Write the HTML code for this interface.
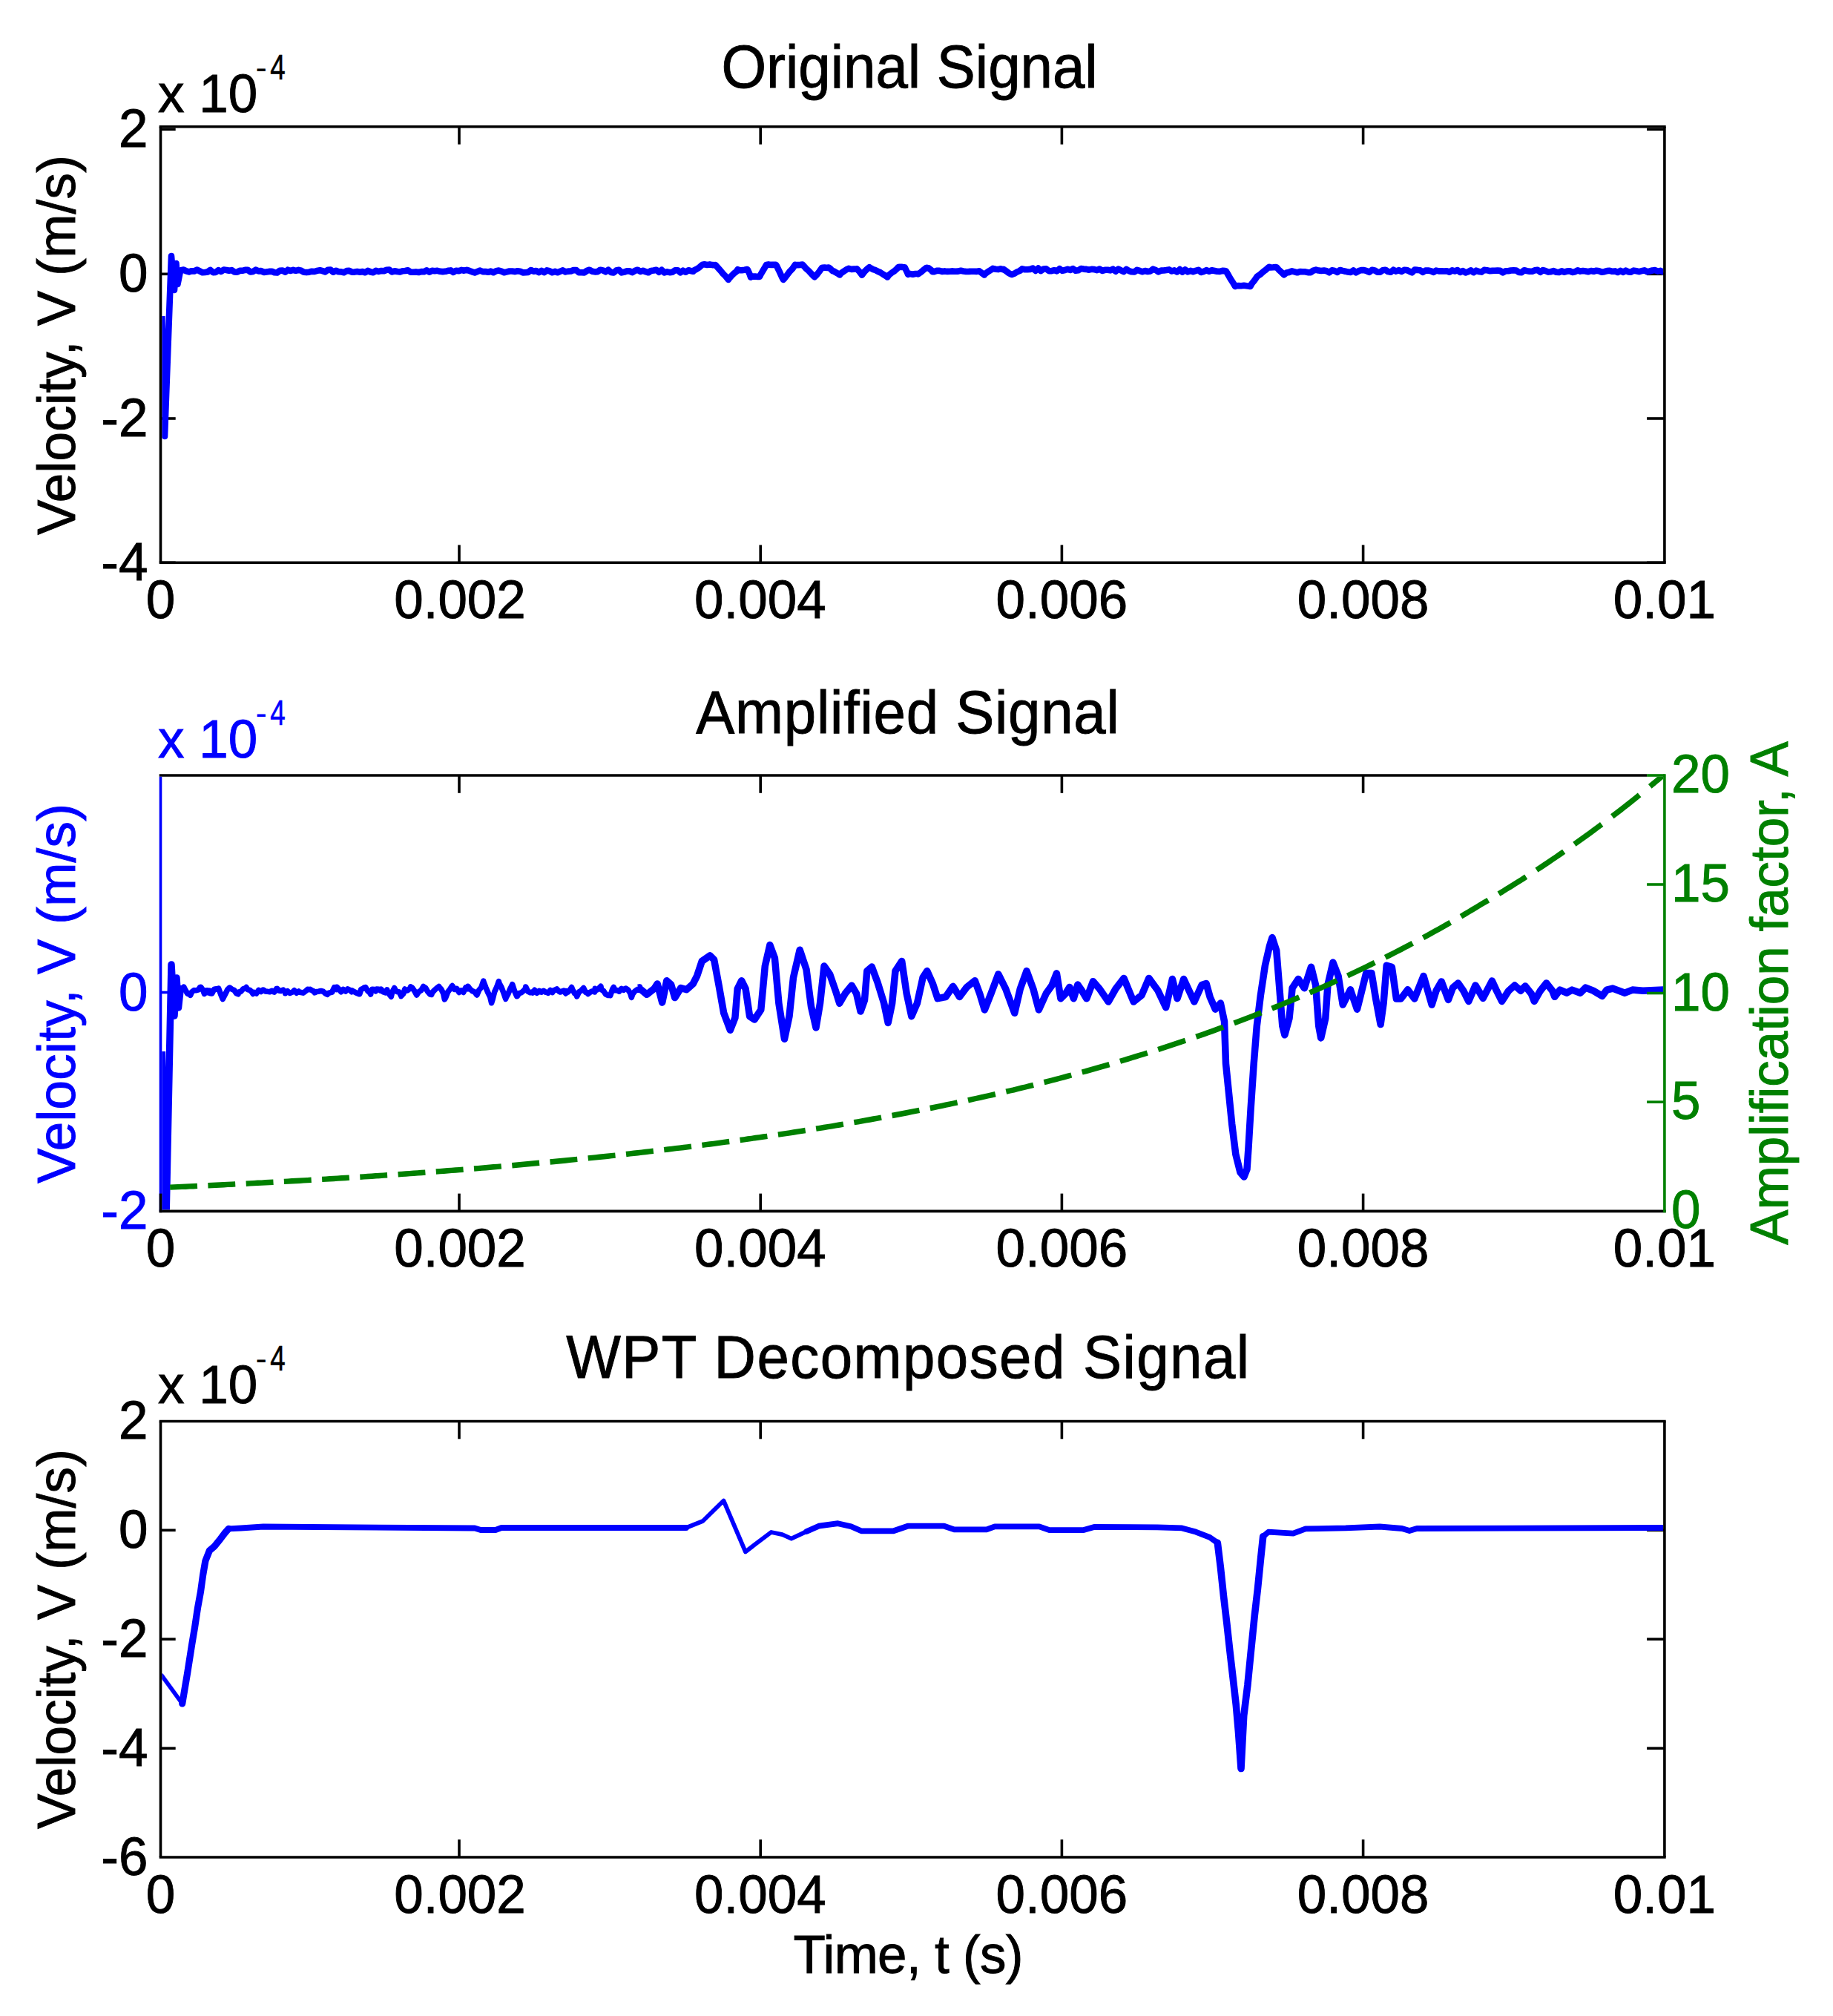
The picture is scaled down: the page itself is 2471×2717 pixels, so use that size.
<!DOCTYPE html>
<html lang="en"><head><meta charset="utf-8"><title>Signal plots</title>
<style>html,body{margin:0;padding:0;background:#fff}svg{display:block}</style>
</head><body>
<svg width="2471" height="2717" viewBox="0 0 2471 2717" font-family="'Liberation Sans', sans-serif" style="font-variant-ligatures:none">
<defs>
<clipPath id="c0"><rect x="218.3" y="172.6" width="2023.8" height="583.9"/></clipPath>
<clipPath id="c1"><rect x="218.3" y="1046.8" width="2023.8" height="583.8"/></clipPath>
<clipPath id="c2"><rect x="218.3" y="1917.3" width="2023.8" height="583.9"/></clipPath>
</defs>
<rect width="2471" height="2717" fill="#fff"/>
<line x1="216.5" y1="174.3" x2="236.7" y2="174.3" stroke="#000" stroke-width="3.6"/>
<line x1="2243.9" y1="174.3" x2="2220.1" y2="174.3" stroke="#000" stroke-width="3.6"/>
<text transform="translate(199.5,197.8) scale(1,1.025)" font-size="71" text-anchor="end" fill="#000" stroke="#000" stroke-width="0.9">2</text>
<line x1="216.5" y1="369.3" x2="236.7" y2="369.3" stroke="#000" stroke-width="3.6"/>
<line x1="2243.9" y1="369.3" x2="2220.1" y2="369.3" stroke="#000" stroke-width="3.6"/>
<text transform="translate(199.5,392.8) scale(1,1.025)" font-size="71" text-anchor="end" fill="#000" stroke="#000" stroke-width="0.9">0</text>
<line x1="216.5" y1="564.0" x2="236.7" y2="564.0" stroke="#000" stroke-width="3.6"/>
<line x1="2243.9" y1="564.0" x2="2220.1" y2="564.0" stroke="#000" stroke-width="3.6"/>
<text transform="translate(199.5,587.5) scale(1,1.025)" font-size="71" text-anchor="end" fill="#000" stroke="#000" stroke-width="0.9">-2</text>
<line x1="216.5" y1="758.3" x2="236.7" y2="758.3" stroke="#000" stroke-width="3.6"/>
<line x1="2243.9" y1="758.3" x2="2220.1" y2="758.3" stroke="#000" stroke-width="3.6"/>
<text transform="translate(199.5,781.8) scale(1,1.025)" font-size="71" text-anchor="end" fill="#000" stroke="#000" stroke-width="0.9">-4</text>
<polyline points="218.3,426.0 222.0,588.0 231.0,345.0 235.0,391.0 237.5,355.0 239.5,383.0 243.0,365.5 244.0,364.2 247.6,363.6 251.2,365.4 254.8,366.4 258.4,365.2 262.0,365.4 265.6,363.5 269.2,365.4 272.8,367.3 276.4,366.9 280.0,366.4 283.6,363.9 287.2,367.1 290.8,366.9 294.4,364.2 298.0,366.0 301.6,363.6 305.2,364.0 308.8,364.8 312.4,364.1 316.0,366.5 319.6,366.8 323.2,364.9 326.8,364.8 330.4,363.9 334.0,363.8 337.6,366.4 341.2,365.9 344.8,363.7 348.4,365.4 352.0,365.1 355.6,366.9 359.2,366.4 362.8,365.9 366.4,365.7 370.0,367.3 373.6,367.5 377.2,364.8 380.8,364.5 384.4,366.7 388.0,363.7 391.6,365.0 395.2,363.8 398.8,364.8 402.4,363.8 406.0,364.7 409.6,366.7 413.2,367.1 416.8,366.7 420.4,365.7 424.0,366.0 427.6,364.9 431.2,364.2 434.8,365.2 438.4,366.4 442.0,363.7 445.6,363.6 449.2,366.6 452.8,364.7 456.4,366.3 460.0,366.4 463.6,367.2 467.2,365.1 470.8,364.9 474.4,366.7 478.0,366.6 481.6,366.1 485.2,366.7 488.8,366.1 492.4,367.3 496.0,364.8 499.6,366.5 503.2,367.3 506.8,364.8 510.4,365.9 514.0,365.0 517.6,365.3 521.2,363.8 524.8,363.6 528.4,366.5 532.0,365.3 535.6,366.0 539.2,366.5 542.8,365.2 546.4,365.0 550.0,364.2 553.6,366.7 557.2,366.8 560.8,366.4 564.4,367.0 568.0,366.1 571.6,366.3 575.2,364.3 578.8,366.6 582.4,364.8 586.0,365.3 589.6,364.8 593.2,365.8 596.8,366.1 600.4,365.8 604.0,364.8 607.6,364.4 611.2,366.9 614.8,364.7 618.4,365.3 622.0,363.9 625.6,364.7 629.2,363.8 632.8,364.9 636.4,366.3 640.0,367.4 643.6,366.0 647.2,364.6 650.8,366.1 654.4,366.0 658.0,366.8 661.6,365.6 665.2,367.2 668.8,365.2 672.4,364.6 676.0,365.6 679.6,367.2 683.2,366.4 686.8,365.5 690.4,365.5 694.0,366.1 697.6,365.3 701.2,365.7 704.8,367.4 708.4,367.2 712.0,366.9 715.6,364.0 719.2,365.7 722.8,365.0 726.4,367.2 730.0,364.8 733.6,367.2 737.2,364.4 740.8,365.2 744.4,367.3 748.0,365.9 751.6,367.2 755.2,365.7 758.8,364.4 762.4,366.4 766.0,365.6 769.6,365.5 773.2,364.0 776.8,364.1 780.4,367.2 784.0,367.3 787.6,367.4 791.2,364.9 794.8,363.7 798.4,365.7 802.0,366.4 805.6,366.1 809.2,363.7 812.8,364.4 816.4,366.3 820.0,363.7 823.6,366.9 827.2,367.5 830.8,364.5 834.4,363.7 838.0,367.4 841.6,366.6 845.2,365.3 848.8,365.4 852.4,367.2 856.0,364.9 859.6,363.7 863.2,366.0 866.8,364.7 870.4,366.2 874.0,367.3 877.6,364.9 881.2,364.5 884.8,363.7 888.4,366.8 892.0,363.8 895.6,367.3 899.2,366.3 902.8,367.2 906.4,366.8 910.0,364.3 913.6,364.2 917.2,367.4 920.8,364.7 924.4,366.7 928.0,364.2 931.6,365.2 934.5,365.7 935.2,364.7 938.8,362.9 942.4,360.7 946.0,357.4 947.0,356.7 949.6,356.3 953.2,356.9 956.8,356.4 960.4,357.1 964.0,357.3 964.5,357.1 967.6,360.6 971.2,364.6 974.8,369.0 978.4,372.5 982.0,377.0 982.0,376.3 985.6,372.3 989.2,368.7 992.8,365.8 994.5,363.2 996.4,364.0 1000.0,364.2 1003.6,363.7 1007.2,363.1 1008.0,363.8 1010.8,370.0 1012.0,373.6 1014.4,372.6 1018.0,372.6 1021.6,373.0 1024.0,373.0 1025.2,370.4 1028.8,364.3 1032.4,358.3 1033.0,357.0 1036.0,356.4 1039.6,356.9 1043.2,356.9 1046.0,356.9 1046.8,357.9 1050.4,365.3 1054.0,373.2 1056.0,377.0 1057.6,375.2 1061.2,370.5 1064.8,365.7 1068.4,362.0 1072.0,356.7 1072.0,357.1 1075.6,357.1 1079.2,356.9 1082.0,356.6 1082.8,357.6 1086.4,361.7 1090.0,364.9 1093.6,368.7 1097.2,372.5 1098.0,373.3 1100.8,370.7 1104.4,366.0 1108.0,361.0 1109.0,360.8 1111.6,360.5 1115.2,360.9 1117.0,360.5 1118.8,361.6 1122.4,365.2 1124.0,365.5 1126.0,366.7 1129.6,368.8 1132.0,370.5 1133.2,368.6 1136.8,366.2 1140.4,363.7 1142.0,362.8 1144.0,361.9 1147.6,362.9 1151.2,362.6 1154.8,362.5 1155.0,362.3 1158.4,365.9 1162.0,370.5 1162.0,370.7 1165.6,365.9 1169.2,362.4 1172.0,360.2 1172.8,360.8 1176.4,362.8 1180.0,364.0 1183.6,365.8 1187.2,367.5 1190.8,369.8 1194.4,372.0 1196.4,373.5 1198.0,371.0 1201.6,368.0 1205.2,365.7 1208.8,362.6 1211.0,360.0 1212.4,359.9 1216.0,359.8 1219.6,360.7 1219.6,360.2 1223.2,367.6 1224.0,369.8 1226.8,369.1 1230.4,369.7 1234.0,369.0 1237.0,369.0 1237.6,369.4 1241.2,367.0 1244.8,363.9 1248.4,361.2 1249.6,360.8 1252.0,361.5 1255.6,364.2 1257.0,366.1 1259.2,366.1 1262.8,364.9 1266.4,364.8 1270.0,365.9 1273.6,365.4 1277.2,365.9 1280.8,365.7 1284.4,365.4 1288.0,365.8 1291.6,365.6 1295.2,364.8 1298.8,365.5 1302.4,366.0 1306.0,365.9 1309.6,365.7 1313.2,365.7 1316.8,365.9 1320.0,365.2 1320.4,365.6 1324.0,368.3 1327.0,370.5 1327.6,369.3 1331.2,366.7 1334.8,364.4 1338.0,362.4 1338.4,361.9 1342.0,362.7 1345.6,363.1 1349.2,362.3 1352.0,363.1 1352.8,362.9 1356.4,365.3 1360.0,368.2 1363.6,370.0 1364.0,370.0 1367.2,368.8 1370.8,366.6 1374.4,365.1 1378.0,362.6 1378.0,362.4 1381.6,363.2 1385.2,363.2 1388.8,362.9 1392.4,361.6 1396.0,364.9 1399.6,361.6 1403.2,365.1 1406.8,362.5 1410.4,362.4 1414.0,365.1 1417.6,365.2 1421.2,364.2 1424.8,365.3 1428.4,362.2 1432.0,364.9 1435.6,364.0 1439.2,362.7 1442.8,364.0 1446.4,362.1 1450.0,364.8 1453.6,364.3 1457.2,362.1 1460.8,362.6 1464.4,362.9 1468.0,363.7 1471.6,362.8 1475.2,363.1 1478.8,364.1 1482.4,362.5 1486.0,365.0 1489.6,363.8 1493.2,363.7 1496.8,364.4 1500.4,362.7 1504.0,365.7 1507.6,362.6 1511.2,364.4 1514.8,366.1 1518.4,362.8 1522.0,365.1 1525.6,366.3 1529.2,366.4 1532.8,363.8 1536.4,364.9 1540.0,366.3 1543.6,365.0 1547.2,366.0 1550.8,365.4 1554.4,362.7 1558.0,364.0 1561.6,366.3 1565.2,364.6 1568.8,364.5 1572.4,364.0 1576.0,363.4 1579.6,365.5 1583.2,364.4 1586.8,366.4 1590.4,363.1 1594.0,366.5 1597.6,363.4 1601.2,366.3 1604.8,364.9 1608.4,366.1 1612.0,364.9 1615.6,363.8 1619.2,367.0 1622.8,365.8 1626.4,364.1 1630.0,365.7 1633.6,364.2 1637.2,365.0 1640.8,365.8 1644.4,365.9 1648.0,364.9 1651.6,365.1 1652.8,365.4 1655.2,369.5 1658.8,375.8 1662.4,381.3 1665.0,385.9 1666.0,385.3 1669.6,385.1 1673.2,385.2 1676.8,384.8 1680.4,385.3 1684.0,385.7 1685.5,386.0 1687.6,382.1 1691.2,377.7 1694.8,372.6 1695.0,372.3 1698.4,370.2 1702.0,367.0 1704.6,364.9 1705.6,364.3 1709.2,361.1 1711.0,359.8 1712.8,360.5 1716.4,360.3 1720.0,360.0 1721.0,360.3 1723.6,363.3 1727.2,366.7 1730.5,369.9 1730.8,370.2 1734.4,367.5 1738.0,367.0 1740.0,365.8 1741.6,365.4 1745.2,366.3 1748.8,367.3 1752.4,366.1 1756.0,366.2 1759.6,366.3 1763.2,367.2 1766.8,367.1 1770.4,364.6 1774.0,363.6 1777.6,364.6 1781.2,365.0 1784.8,364.5 1788.4,365.3 1792.0,367.3 1795.6,364.3 1799.2,365.0 1802.8,366.8 1806.4,364.0 1810.0,364.9 1813.6,365.7 1817.2,366.6 1820.8,367.0 1824.4,364.5 1828.0,367.3 1831.6,365.2 1835.2,364.0 1838.8,364.1 1842.4,365.2 1846.0,366.8 1849.6,363.8 1853.2,364.4 1856.8,366.7 1860.4,366.8 1864.0,364.3 1867.6,363.7 1871.2,366.1 1874.8,366.7 1878.4,363.7 1882.0,365.6 1885.6,364.1 1889.2,365.9 1892.8,363.9 1896.4,364.0 1900.0,365.7 1903.6,367.3 1907.2,363.6 1910.8,363.9 1914.4,364.3 1918.0,366.8 1921.6,364.5 1925.2,364.6 1928.8,365.2 1932.4,366.9 1936.0,364.6 1939.6,365.4 1943.2,365.4 1946.8,365.5 1950.4,365.3 1954.0,366.7 1957.6,364.3 1961.2,365.5 1964.8,364.0 1968.4,367.0 1972.0,365.2 1975.6,367.5 1979.2,366.2 1982.8,364.3 1986.4,367.2 1990.0,364.7 1993.6,366.1 1997.2,366.6 2000.8,363.9 2004.4,364.2 2008.0,365.2 2011.6,364.9 2015.2,364.8 2018.8,364.6 2022.4,364.9 2026.0,367.4 2029.6,365.3 2033.2,365.3 2036.8,364.5 2040.4,364.3 2044.0,364.5 2047.6,367.0 2051.2,367.1 2054.8,364.2 2058.4,365.1 2062.0,365.8 2065.6,365.7 2069.2,364.3 2072.8,363.7 2076.4,366.7 2080.0,364.0 2083.6,365.1 2087.2,366.6 2090.8,366.2 2094.4,365.1 2098.0,366.7 2101.6,367.0 2105.2,365.4 2108.8,366.7 2112.4,365.6 2116.0,365.2 2119.6,367.0 2123.2,366.3 2126.8,364.4 2130.4,365.6 2134.0,365.1 2137.6,365.5 2141.2,366.3 2144.8,365.0 2148.4,365.8 2152.0,364.7 2155.6,365.3 2159.2,366.7 2162.8,366.2 2166.4,365.1 2170.0,364.8 2173.6,365.8 2177.2,365.4 2180.8,367.0 2184.4,364.9 2188.0,366.8 2191.6,364.7 2195.2,366.4 2198.8,366.6 2202.4,364.6 2206.0,365.3 2209.6,366.1 2213.2,365.2 2216.8,364.3 2220.4,366.3 2224.0,365.5 2227.6,364.5 2231.2,364.1 2234.8,365.6 2238.4,364.9 2242.0,366.4 2242.0,364.5" fill="none" stroke="#0000ff" stroke-width="8.6" stroke-linejoin="round" clip-path="url(#c0)"/>
<line x1="214.7" y1="170.8" x2="2245.7" y2="170.8" stroke="#000" stroke-width="3.6"/>
<line x1="214.7" y1="758.3" x2="2245.7" y2="758.3" stroke="#000" stroke-width="3.6"/>
<line x1="216.5" y1="170.8" x2="216.5" y2="758.3" stroke="#000" stroke-width="3.6"/>
<line x1="2243.9" y1="170.8" x2="2243.9" y2="758.3" stroke="#000" stroke-width="3.6"/>
<line x1="619.0" y1="758.3" x2="619.0" y2="734.5" stroke="#000" stroke-width="3.6"/>
<line x1="619.0" y1="170.8" x2="619.0" y2="194.6" stroke="#000" stroke-width="3.6"/>
<line x1="1025.2" y1="758.3" x2="1025.2" y2="734.5" stroke="#000" stroke-width="3.6"/>
<line x1="1025.2" y1="170.8" x2="1025.2" y2="194.6" stroke="#000" stroke-width="3.6"/>
<line x1="1431.4" y1="758.3" x2="1431.4" y2="734.5" stroke="#000" stroke-width="3.6"/>
<line x1="1431.4" y1="170.8" x2="1431.4" y2="194.6" stroke="#000" stroke-width="3.6"/>
<line x1="1837.6" y1="758.3" x2="1837.6" y2="734.5" stroke="#000" stroke-width="3.6"/>
<line x1="1837.6" y1="170.8" x2="1837.6" y2="194.6" stroke="#000" stroke-width="3.6"/>
<text transform="translate(216.5,833.0) scale(1,1.025)" font-size="71" text-anchor="middle" fill="#000" stroke="#000" stroke-width="0.9">0</text>
<text transform="translate(620.0,833.0) scale(1,1.025)" font-size="71" text-anchor="middle" fill="#000" stroke="#000" stroke-width="0.9">0.002</text>
<text transform="translate(1024.8,833.0) scale(1,1.025)" font-size="71" text-anchor="middle" fill="#000" stroke="#000" stroke-width="0.9">0.004</text>
<text transform="translate(1431.4,833.0) scale(1,1.025)" font-size="71" text-anchor="middle" fill="#000" stroke="#000" stroke-width="0.9">0.006</text>
<text transform="translate(1837.6,833.0) scale(1,1.025)" font-size="71" text-anchor="middle" fill="#000" stroke="#000" stroke-width="0.9">0.008</text>
<text transform="translate(2243.8,833.0) scale(1,1.025)" font-size="71" text-anchor="middle" fill="#000" stroke="#000" stroke-width="0.9">0.01</text>
<text transform="translate(1226.0,117.5) scale(1,1.04)" font-size="78" text-anchor="middle" fill="#000" stroke="#000" stroke-width="0.9">Original Signal</text>
<text transform="translate(213.0,150.5) scale(1,1.025)" font-size="71" text-anchor="start" fill="#000" stroke="#000" stroke-width="0.9">x 10</text>
<text x="344.5" y="106.6" font-size="46" fill="#000">-</text>
<text transform="translate(364.3,106.6) scale(0.8,1.03)" font-size="46" fill="#000" stroke="#000" stroke-width="0.6">4</text>
<text transform="translate(101.0,720.9) rotate(-90) scale(1,1.025)" font-size="71" text-anchor="start" fill="#000" stroke="#000" stroke-width="0.9" letter-spacing="0.275">Velocity, V (m/s)</text>
<line x1="216.5" y1="1337.5" x2="236.7" y2="1337.5" stroke="#0000ff" stroke-width="3.6"/>
<polyline points="218.3,1417.0 223.0,1690.0 231.0,1300.0 235.0,1369.0 238.0,1318.0 240.5,1358.0 243.0,1335.0 243.7,1332.8 246.7,1333.0" fill="none" stroke="#0000ff" stroke-width="9.5" stroke-linejoin="round" clip-path="url(#c1)"/>
<polyline points="243.7,1332.8 246.7,1333.0 247.7,1330.1 249.7,1334.0 252.7,1339.0 255.7,1340.4 256.6,1341.3 258.7,1336.7 261.7,1334.5 262.6,1334.8 264.7,1334.7 267.7,1333.8 269.5,1330.7 270.7,1330.3 273.7,1334.4 275.5,1339.4 276.7,1335.1 279.4,1334.8 279.7,1337.6 282.7,1335.3 283.4,1338.8 285.7,1339.0 288.7,1333.2 291.7,1332.7 293.3,1333.5 294.7,1332.2 297.7,1340.3 300.3,1346.5 300.7,1345.4 303.7,1339.7 306.7,1333.7 309.2,1331.3 309.7,1331.0 312.7,1333.3 315.7,1334.5 318.7,1338.7 321.1,1339.7 321.7,1336.9 324.7,1336.4 327.7,1332.9 330.7,1331.9 332.0,1330.6 333.7,1333.5 336.7,1334.3 339.7,1337.1 341.0,1339.4 342.7,1337.3 345.7,1339.0 348.7,1334.4 351.7,1336.5 354.7,1334.0 354.8,1334.0 357.7,1335.9 360.7,1336.3 363.7,1336.6 366.7,1335.4 367.7,1336.2 369.7,1337.1 372.7,1332.6 373.7,1332.4 375.7,1335.0 378.7,1335.5 381.7,1334.1 384.6,1337.3 384.7,1338.7 387.7,1335.8 390.7,1338.5 393.7,1337.3 395.5,1336.2 396.7,1334.8 399.7,1338.2 402.7,1336.0 403.5,1337.3 405.7,1337.5 408.7,1338.1 411.7,1336.0 414.7,1333.4 417.7,1333.7 418.3,1333.4 420.7,1334.9 423.7,1336.2 424.3,1337.8 426.7,1336.5 429.7,1336.3 430.2,1336.0 432.7,1335.5 435.7,1336.2 438.7,1338.9 441.2,1340.3 441.7,1338.9 444.7,1337.9 447.7,1337.0 450.7,1330.7 453.7,1333.5 454.0,1330.2 456.7,1333.0 459.7,1336.7 460.0,1336.4 462.7,1333.4 465.7,1336.0 468.7,1332.9 471.7,1334.4 473.9,1336.7 474.7,1335.0 477.7,1336.7 480.7,1338.3 483.7,1339.6 484.8,1339.6 486.7,1333.5 489.7,1332.1 490.8,1331.2 492.7,1330.6 495.7,1335.4 498.7,1338.1 499.7,1340.0 500.0,1337.6 501.7,1333.3 504.7,1333.6 506.5,1335.8 507.7,1333.0 510.7,1333.3 513.1,1335.1 513.7,1333.1 516.7,1336.9 519.7,1337.8 521.8,1333.9 522.7,1337.3 525.7,1341.1 527.3,1343.2 528.7,1337.1 531.7,1331.6 532.7,1333.6 534.7,1336.4 537.7,1336.7 540.4,1341.5 540.7,1342.5 543.7,1339.2 545.8,1333.0 546.7,1335.2 549.7,1334.7 552.7,1332.2 553.5,1329.9 555.7,1331.3 558.7,1335.4 561.7,1340.9 563.3,1338.4 564.7,1336.5 567.7,1334.7 570.7,1329.6 570.9,1329.8 573.7,1331.5 576.7,1336.6 579.7,1340.0 581.8,1340.4 582.7,1337.6 585.7,1334.5 588.7,1331.8 591.7,1329.6 591.7,1330.0 594.7,1333.1 597.7,1338.9 599.3,1346.8 600.7,1344.7 603.7,1336.8 606.7,1333.0 609.1,1329.2 609.7,1328.6 612.7,1333.4 615.7,1332.4 618.7,1337.1 618.9,1337.4 621.7,1335.0 624.7,1337.4 627.7,1331.0 630.7,1332.7 630.9,1329.4 633.7,1333.0 636.7,1335.6 639.7,1336.7 642.7,1340.7 642.9,1340.9 645.7,1334.4 648.7,1330.9 651.7,1322.2 651.7,1322.6 654.7,1330.4 657.7,1337.5 660.7,1343.6 662.6,1351.7 663.7,1348.2 666.7,1336.6 669.7,1330.2 672.4,1322.6 672.7,1324.5 675.7,1330.0 678.7,1337.6 681.7,1346.3 682.2,1344.5 684.7,1340.0 687.7,1332.7 689.9,1328.6 690.7,1326.7 693.7,1335.9 696.7,1342.7 697.5,1342.4 699.7,1338.6 702.7,1337.8 705.7,1335.3 708.4,1332.5 708.7,1330.0 711.7,1336.1 714.7,1337.8 717.7,1336.8 718.2,1338.0 720.7,1334.3 723.7,1338.3 726.7,1336.4 727.0,1335.4 729.7,1337.2 732.7,1335.3 735.7,1337.2 736.8,1337.2 738.7,1338.3 741.7,1334.5 744.7,1337.5 746.6,1334.5 747.7,1334.5 750.7,1333.0 753.7,1336.2 755.3,1337.0 756.7,1336.4 759.7,1335.2 762.7,1338.9 763.0,1335.6 765.7,1337.1 768.7,1333.5 770.6,1330.6 771.7,1333.5 774.7,1338.8 777.1,1340.6 777.7,1342.9 780.7,1336.6 783.7,1335.1 784.8,1333.4 786.7,1331.6 789.7,1337.6 791.3,1337.6 792.7,1339.4 795.7,1337.2 798.7,1335.7 801.7,1336.9 802.2,1332.4 804.7,1334.0 807.7,1331.6 809.9,1329.2 810.7,1333.8 813.7,1335.6 816.7,1340.1 819.7,1341.4 820.8,1341.0 822.7,1341.7 825.7,1333.0 827.3,1330.4 828.7,1334.8 831.7,1334.6 831.7,1334.6 834.7,1336.2 837.7,1332.4 840.7,1334.3 842.6,1332.4 843.7,1332.1 846.7,1334.2 849.7,1338.6 851.3,1344.3 852.7,1340.0 855.7,1336.0 858.7,1333.9 861.7,1334.2 862.2,1329.9 860.0,1330.4" fill="none" stroke="#0000ff" stroke-width="7.6" stroke-linejoin="round" clip-path="url(#c1)"/>
<polyline points="860.0,1330.4 872.0,1340.2 881.8,1332.6 886.2,1326.0 892.7,1351.1 898.8,1321.7 904.7,1327.1 909.8,1344.6 917.8,1331.5 925.5,1333.7 934.2,1326.0 939.7,1315.1 946.2,1295.5 957.1,1287.8 962.6,1293.3 969.1,1328.2 975.7,1365.3 984.4,1388.2 990.9,1371.8 994.2,1332.6 999.7,1321.7 1005.1,1332.6 1010.6,1369.7 1017.1,1374.0 1025.8,1360.9 1031.3,1302.0 1037.9,1273.6 1044.4,1291.1 1049.9,1352.2 1057.5,1400.2 1064.0,1369.7 1069.5,1317.3 1078.2,1280.2 1087.0,1306.4 1093.5,1356.6 1100.0,1384.9 1105.5,1352.2 1111.0,1302.0 1118.6,1312.9 1126.2,1334.7 1131.7,1352.2 1139.3,1339.1 1148.1,1328.2 1154.6,1339.1 1160.1,1363.1 1165.5,1347.8 1168.8,1308.6 1175.3,1303.1 1183.0,1323.8 1191.7,1352.2 1197.2,1378.4 1202.6,1352.2 1207.0,1308.6 1215.7,1295.5 1222.2,1339.1 1228.8,1369.7 1236.4,1352.2 1244.1,1317.3 1249.8,1308.6 1257.5,1326.0 1264.0,1345.7 1274.9,1343.5 1284.7,1329.3 1293.5,1343.5 1303.3,1330.4 1314.2,1321.7 1320.7,1339.1 1327.3,1360.9 1336.0,1339.1 1345.8,1312.9 1355.7,1332.6 1367.7,1365.3 1375.3,1332.6 1384.0,1308.6 1392.8,1332.6 1400.4,1360.9 1410.2,1339.1 1417.9,1328.2 1424.4,1311.8 1429.9,1345.7 1436.4,1339.1 1441.9,1330.4 1447.3,1345.7 1452.8,1327.1 1458.2,1334.7 1464.8,1345.7 1473.5,1322.7 1482.2,1332.6 1494.2,1350.0 1504.0,1332.6 1515.0,1318.4 1528.1,1350.0 1539.0,1341.3 1548.8,1318.4 1560.8,1334.7 1571.7,1357.7 1580.4,1319.5 1587.0,1345.7 1595.7,1319.5 1609.9,1350.0 1620.0,1327.6 1626.1,1325.6 1631.2,1343.9 1638.3,1360.2 1645.4,1352.1 1650.5,1376.5 1652.5,1433.4 1656.6,1474.1 1660.7,1514.8 1665.8,1555.5 1671.9,1579.9 1677.0,1586.0 1681.0,1575.8 1683.1,1545.3 1686.1,1494.5 1690.2,1433.4 1694.3,1382.6 1699.3,1341.9 1705.4,1301.2 1711.5,1274.8 1715.0,1263.6 1720.7,1280.9 1724.8,1331.7 1728.8,1382.6 1731.9,1394.8 1738.0,1372.4 1742.1,1331.7 1750.2,1319.5 1758.3,1331.7 1767.5,1303.2 1773.6,1327.6 1777.7,1382.6 1780.7,1398.9 1786.8,1372.4 1789.9,1327.6 1797.0,1297.1 1804.1,1315.4 1810.2,1354.1 1820.4,1333.8 1829.5,1360.2 1835.6,1335.8 1841.7,1311.4 1848.9,1311.4 1855.0,1348.0 1861.1,1380.5 1865.1,1352.1 1869.2,1301.2 1876.3,1303.2 1882.4,1346.0 1888.5,1346.0 1897.7,1333.8 1906.8,1346.0 1919.0,1315.4 1930.2,1354.1 1936.1,1335.2 1943.2,1322.9 1952.4,1347.4 1958.5,1331.1 1965.6,1325.0 1972.7,1335.2 1979.8,1349.4 1989.0,1328.0 1999.2,1345.3 2011.4,1321.9 2017.5,1335.2 2024.6,1349.4 2033.8,1335.2 2041.9,1328.0 2050.0,1335.2 2056.1,1329.0 2064.3,1339.2 2068.3,1349.4 2076.5,1335.2 2084.6,1325.0 2092.7,1335.2 2095.8,1343.3 2102.9,1334.1 2112.1,1338.2 2119.2,1334.1 2130.4,1338.2 2137.5,1331.1 2147.7,1335.2 2159.9,1342.3 2166.0,1334.1 2174.1,1332.1 2190.4,1338.2 2200.6,1334.1 2214.8,1335.2 2242.3,1334.1" fill="none" stroke="#0000ff" stroke-width="9.5" stroke-linejoin="round" clip-path="url(#c1)"/>
<line x1="214.7" y1="1045.0" x2="2220.1" y2="1045.0" stroke="#000" stroke-width="3.6"/>
<line x1="214.7" y1="1632.4" x2="2245.7" y2="1632.4" stroke="#000" stroke-width="3.6"/>
<line x1="619.0" y1="1632.4" x2="619.0" y2="1608.6" stroke="#000" stroke-width="3.6"/>
<line x1="619.0" y1="1045.0" x2="619.0" y2="1068.8" stroke="#000" stroke-width="3.6"/>
<line x1="1025.2" y1="1632.4" x2="1025.2" y2="1608.6" stroke="#000" stroke-width="3.6"/>
<line x1="1025.2" y1="1045.0" x2="1025.2" y2="1068.8" stroke="#000" stroke-width="3.6"/>
<line x1="1431.4" y1="1632.4" x2="1431.4" y2="1608.6" stroke="#000" stroke-width="3.6"/>
<line x1="1431.4" y1="1045.0" x2="1431.4" y2="1068.8" stroke="#000" stroke-width="3.6"/>
<line x1="1837.6" y1="1632.4" x2="1837.6" y2="1608.6" stroke="#000" stroke-width="3.6"/>
<line x1="1837.6" y1="1045.0" x2="1837.6" y2="1068.8" stroke="#000" stroke-width="3.6"/>
<line x1="216.5" y1="1046.8" x2="216.5" y2="1632.4" stroke="#0000ff" stroke-width="3.6"/>
<line x1="2243.9" y1="1043.2" x2="2243.9" y2="1634.2" stroke="#008000" stroke-width="3.6"/>
<line x1="216.5" y1="1634.2" x2="216.5" y2="1608.6" stroke="#000" stroke-width="3.6"/>
<line x1="2243.9" y1="1045.0" x2="2220.1" y2="1045.0" stroke="#008000" stroke-width="3.6"/>
<text transform="translate(2253.0,1068.0) scale(1,1.025)" font-size="71" text-anchor="start" fill="#008000" stroke="#008000" stroke-width="0.9">20</text>
<line x1="2243.9" y1="1192.0" x2="2220.1" y2="1192.0" stroke="#008000" stroke-width="3.6"/>
<text transform="translate(2253.0,1215.0) scale(1,1.025)" font-size="71" text-anchor="start" fill="#008000" stroke="#008000" stroke-width="0.9">15</text>
<line x1="2243.9" y1="1338.5" x2="2220.1" y2="1338.5" stroke="#008000" stroke-width="3.6"/>
<text transform="translate(2253.0,1361.5) scale(1,1.025)" font-size="71" text-anchor="start" fill="#008000" stroke="#008000" stroke-width="0.9">10</text>
<line x1="2243.9" y1="1485.2" x2="2220.1" y2="1485.2" stroke="#008000" stroke-width="3.6"/>
<text transform="translate(2253.0,1508.2) scale(1,1.025)" font-size="71" text-anchor="start" fill="#008000" stroke="#008000" stroke-width="0.9">5</text>
<text transform="translate(2253.0,1655.2) scale(1,1.025)" font-size="71" text-anchor="start" fill="#008000" stroke="#008000" stroke-width="0.9">0</text>
<polyline points="229.2,1600.1 234.5,1599.9 239.7,1599.6 245.0,1599.4 250.2,1599.2 255.5,1598.9 260.7,1598.7 266.0,1598.4" fill="none" stroke="#008000" stroke-width="7.4" stroke-linejoin="round" clip-path="url(#c1)"/>
<polyline points="280.4,1597.7 285.7,1597.5 290.9,1597.2 296.2,1597.0 301.5,1596.7 306.7,1596.4 312.0,1596.2 317.2,1595.9" fill="none" stroke="#008000" stroke-width="7.4" stroke-linejoin="round" clip-path="url(#c1)"/>
<polyline points="331.7,1595.2 336.9,1594.9 342.2,1594.6 347.4,1594.3 352.7,1594.1 357.9,1593.8 363.2,1593.5 368.5,1593.2" fill="none" stroke="#008000" stroke-width="7.4" stroke-linejoin="round" clip-path="url(#c1)"/>
<polyline points="382.9,1592.4 388.1,1592.1 393.4,1591.8 398.7,1591.5 403.9,1591.2 409.2,1590.9 414.4,1590.6 419.7,1590.3" fill="none" stroke="#008000" stroke-width="7.4" stroke-linejoin="round" clip-path="url(#c1)"/>
<polyline points="434.1,1589.4 439.4,1589.1 444.6,1588.8 449.9,1588.5 455.1,1588.1 460.4,1587.8 465.7,1587.5 470.9,1587.1" fill="none" stroke="#008000" stroke-width="7.4" stroke-linejoin="round" clip-path="url(#c1)"/>
<polyline points="485.3,1586.2 490.6,1585.9 495.9,1585.5 501.1,1585.2 506.4,1584.8 511.6,1584.5 516.9,1584.1 522.1,1583.8" fill="none" stroke="#008000" stroke-width="7.4" stroke-linejoin="round" clip-path="url(#c1)"/>
<polyline points="536.6,1582.8 541.8,1582.4 547.1,1582.0 552.4,1581.6 557.6,1581.3 562.9,1580.9 568.1,1580.5 573.4,1580.1" fill="none" stroke="#008000" stroke-width="7.4" stroke-linejoin="round" clip-path="url(#c1)"/>
<polyline points="587.8,1579.0 593.1,1578.6 598.3,1578.2 603.6,1577.8 608.8,1577.4 614.1,1577.0 619.4,1576.6 624.6,1576.2" fill="none" stroke="#008000" stroke-width="7.4" stroke-linejoin="round" clip-path="url(#c1)"/>
<polyline points="639.0,1575.0 644.3,1574.6 649.6,1574.1 654.8,1573.7 660.1,1573.3 665.3,1572.8 670.6,1572.4 675.8,1571.9" fill="none" stroke="#008000" stroke-width="7.4" stroke-linejoin="round" clip-path="url(#c1)"/>
<polyline points="690.3,1570.7 695.5,1570.2 700.8,1569.7 706.0,1569.3 711.3,1568.8 716.6,1568.3 721.8,1567.8 727.1,1567.3" fill="none" stroke="#008000" stroke-width="7.4" stroke-linejoin="round" clip-path="url(#c1)"/>
<polyline points="741.5,1566.0 746.8,1565.5 752.0,1565.0 757.3,1564.5 762.5,1564.0 767.8,1563.4 773.0,1562.9 778.3,1562.4" fill="none" stroke="#008000" stroke-width="7.4" stroke-linejoin="round" clip-path="url(#c1)"/>
<polyline points="792.7,1560.9 798.0,1560.4 803.2,1559.9 808.5,1559.3 813.8,1558.8 819.0,1558.2 824.3,1557.6 829.5,1557.1" fill="none" stroke="#008000" stroke-width="7.4" stroke-linejoin="round" clip-path="url(#c1)"/>
<polyline points="844.0,1555.5 849.2,1554.9 854.5,1554.3 859.7,1553.7 865.0,1553.1 870.2,1552.5 875.5,1551.9 880.8,1551.3" fill="none" stroke="#008000" stroke-width="7.4" stroke-linejoin="round" clip-path="url(#c1)"/>
<polyline points="895.2,1549.6 900.4,1549.0 905.7,1548.4 911.0,1547.7 916.2,1547.1 921.5,1546.5 926.7,1545.8 932.0,1545.1" fill="none" stroke="#008000" stroke-width="7.4" stroke-linejoin="round" clip-path="url(#c1)"/>
<polyline points="946.4,1543.3 951.7,1542.6 956.9,1542.0 962.2,1541.3 967.4,1540.6 972.7,1539.9 978.0,1539.2 983.2,1538.5" fill="none" stroke="#008000" stroke-width="7.4" stroke-linejoin="round" clip-path="url(#c1)"/>
<polyline points="997.6,1536.5 1002.9,1535.8 1008.2,1535.0 1013.4,1534.3 1018.7,1533.5 1023.9,1532.8 1029.2,1532.0 1034.4,1531.3" fill="none" stroke="#008000" stroke-width="7.4" stroke-linejoin="round" clip-path="url(#c1)"/>
<polyline points="1048.9,1529.1 1054.1,1528.4 1059.4,1527.6 1064.7,1526.8 1069.9,1526.0 1075.2,1525.2 1080.4,1524.3 1085.7,1523.5" fill="none" stroke="#008000" stroke-width="7.4" stroke-linejoin="round" clip-path="url(#c1)"/>
<polyline points="1100.1,1521.2 1105.4,1520.4 1110.6,1519.5 1115.9,1518.7 1121.1,1517.8 1126.4,1516.9 1131.7,1516.0 1136.9,1515.1" fill="none" stroke="#008000" stroke-width="7.4" stroke-linejoin="round" clip-path="url(#c1)"/>
<polyline points="1151.3,1512.7 1156.6,1511.8 1161.9,1510.8 1167.1,1509.9 1172.4,1509.0 1177.6,1508.0 1182.9,1507.1 1188.1,1506.1" fill="none" stroke="#008000" stroke-width="7.4" stroke-linejoin="round" clip-path="url(#c1)"/>
<polyline points="1202.6,1503.5 1207.8,1502.5 1213.1,1501.5 1218.3,1500.5 1223.6,1499.5 1228.9,1498.4 1234.1,1497.4 1239.4,1496.4" fill="none" stroke="#008000" stroke-width="7.4" stroke-linejoin="round" clip-path="url(#c1)"/>
<polyline points="1253.8,1493.5 1259.1,1492.5 1264.3,1491.4 1269.6,1490.3 1274.8,1489.2 1280.1,1488.1 1285.3,1487.0 1290.6,1485.9" fill="none" stroke="#008000" stroke-width="7.4" stroke-linejoin="round" clip-path="url(#c1)"/>
<polyline points="1305.0,1482.8 1310.3,1481.6 1315.5,1480.5 1320.8,1479.3 1326.1,1478.2 1331.3,1477.0 1336.6,1475.8 1341.8,1474.6" fill="none" stroke="#008000" stroke-width="7.4" stroke-linejoin="round" clip-path="url(#c1)"/>
<polyline points="1356.3,1471.2 1361.5,1470.0 1366.8,1468.8 1372.0,1467.5 1377.3,1466.2 1382.5,1465.0 1387.8,1463.7 1393.1,1462.4" fill="none" stroke="#008000" stroke-width="7.4" stroke-linejoin="round" clip-path="url(#c1)"/>
<polyline points="1407.5,1458.7 1412.7,1457.4 1418.0,1456.0 1423.3,1454.6 1428.5,1453.2 1433.8,1451.8 1439.0,1450.4 1444.3,1449.0" fill="none" stroke="#008000" stroke-width="7.4" stroke-linejoin="round" clip-path="url(#c1)"/>
<polyline points="1458.7,1445.0 1464.0,1443.6 1469.2,1442.1 1474.5,1440.6 1479.7,1439.1 1485.0,1437.6 1490.3,1436.1 1495.5,1434.6" fill="none" stroke="#008000" stroke-width="7.4" stroke-linejoin="round" clip-path="url(#c1)"/>
<polyline points="1510.0,1430.3 1515.2,1428.7 1520.5,1427.1 1525.7,1425.5 1531.0,1423.9 1536.2,1422.3 1541.5,1420.7 1546.8,1419.0" fill="none" stroke="#008000" stroke-width="7.4" stroke-linejoin="round" clip-path="url(#c1)"/>
<polyline points="1561.2,1414.4 1566.4,1412.7 1571.7,1411.0 1577.0,1409.3 1582.2,1407.6 1587.5,1405.8 1592.7,1404.0 1598.0,1402.3" fill="none" stroke="#008000" stroke-width="7.4" stroke-linejoin="round" clip-path="url(#c1)"/>
<polyline points="1612.4,1397.3 1617.7,1395.5 1622.9,1393.7 1628.2,1391.8 1633.4,1389.9 1638.7,1388.0 1644.0,1386.1 1649.2,1384.2" fill="none" stroke="#008000" stroke-width="7.4" stroke-linejoin="round" clip-path="url(#c1)"/>
<polyline points="1663.6,1378.9 1668.9,1376.9 1674.2,1374.9 1679.4,1372.9 1684.7,1370.9 1689.9,1368.9 1695.2,1366.8 1700.4,1364.8" fill="none" stroke="#008000" stroke-width="7.4" stroke-linejoin="round" clip-path="url(#c1)"/>
<polyline points="1714.6,1359.1 1719.9,1357.0 1725.1,1354.9 1730.4,1352.7 1735.6,1350.6 1740.9,1348.4 1746.2,1346.2 1751.4,1344.0" fill="none" stroke="#008000" stroke-width="7.4" stroke-linejoin="round" clip-path="url(#c1)"/>
<polyline points="1765.6,1337.9 1770.8,1335.6 1776.1,1333.3 1781.4,1331.0 1786.6,1328.6 1791.9,1326.3 1797.1,1323.9 1802.4,1321.5" fill="none" stroke="#008000" stroke-width="7.4" stroke-linejoin="round" clip-path="url(#c1)"/>
<polyline points="1816.5,1315.0 1821.8,1312.5 1827.1,1310.0 1832.3,1307.5 1837.6,1305.0 1842.8,1302.5 1848.1,1299.9 1853.3,1297.3" fill="none" stroke="#008000" stroke-width="7.4" stroke-linejoin="round" clip-path="url(#c1)"/>
<polyline points="1867.5,1290.3 1872.8,1287.6 1878.0,1285.0 1883.3,1282.3 1888.5,1279.6 1893.8,1276.8 1899.1,1274.1 1904.3,1271.3" fill="none" stroke="#008000" stroke-width="7.4" stroke-linejoin="round" clip-path="url(#c1)"/>
<polyline points="1918.5,1263.7 1923.7,1260.9 1929.0,1258.0 1934.3,1255.1 1939.5,1252.2 1944.8,1249.2 1950.0,1246.2 1955.3,1243.2" fill="none" stroke="#008000" stroke-width="7.4" stroke-linejoin="round" clip-path="url(#c1)"/>
<polyline points="1969.5,1235.1 1974.7,1232.0 1980.0,1228.9 1985.2,1225.8 1990.5,1222.6 1995.7,1219.4 2001.0,1216.3 2006.3,1213.2" fill="none" stroke="#008000" stroke-width="7.4" stroke-linejoin="round" clip-path="url(#c1)"/>
<polyline points="2020.4,1204.7 2025.7,1201.5 2030.9,1198.2 2036.2,1195.0 2041.5,1191.7 2046.7,1188.4 2052.0,1185.1 2057.2,1181.7" fill="none" stroke="#008000" stroke-width="7.4" stroke-linejoin="round" clip-path="url(#c1)"/>
<polyline points="2071.4,1172.5 2076.7,1169.1 2081.9,1165.6 2087.2,1162.1 2092.4,1158.5 2097.7,1155.0 2102.9,1151.4 2108.2,1147.7" fill="none" stroke="#008000" stroke-width="7.4" stroke-linejoin="round" clip-path="url(#c1)"/>
<polyline points="2122.4,1137.8 2127.6,1134.1 2132.9,1130.3 2138.1,1126.5 2143.4,1122.7 2148.7,1118.8 2153.9,1114.9 2159.2,1111.0" fill="none" stroke="#008000" stroke-width="7.4" stroke-linejoin="round" clip-path="url(#c1)"/>
<polyline points="2173.3,1100.3 2178.6,1096.3 2183.9,1092.2 2189.1,1088.1 2194.4,1084.0 2199.6,1079.8 2204.9,1075.6 2210.1,1071.4" fill="none" stroke="#008000" stroke-width="7.4" stroke-linejoin="round" clip-path="url(#c1)"/>
<polyline points="2224.3,1059.8 2226.9,1057.7 2229.4,1055.6 2231.9,1053.5 2234.5,1051.4 2237.0,1049.2 2239.6,1047.1 2242.1,1045.0" fill="none" stroke="#008000" stroke-width="7.4" stroke-linejoin="round" clip-path="url(#c1)"/>
<text transform="translate(199.5,1361.5) scale(1,1.025)" font-size="71" text-anchor="end" fill="#0000ff" stroke="#0000ff" stroke-width="0.9">0</text>
<text transform="translate(199.5,1655.9) scale(1,1.025)" font-size="71" text-anchor="end" fill="#0000ff" stroke="#0000ff" stroke-width="0.9">-2</text>
<text transform="translate(216.5,1707.1) scale(1,1.025)" font-size="71" text-anchor="middle" fill="#000" stroke="#000" stroke-width="0.9">0</text>
<text transform="translate(620.0,1707.1) scale(1,1.025)" font-size="71" text-anchor="middle" fill="#000" stroke="#000" stroke-width="0.9">0.002</text>
<text transform="translate(1024.8,1707.1) scale(1,1.025)" font-size="71" text-anchor="middle" fill="#000" stroke="#000" stroke-width="0.9">0.004</text>
<text transform="translate(1431.4,1707.1) scale(1,1.025)" font-size="71" text-anchor="middle" fill="#000" stroke="#000" stroke-width="0.9">0.006</text>
<text transform="translate(1837.6,1707.1) scale(1,1.025)" font-size="71" text-anchor="middle" fill="#000" stroke="#000" stroke-width="0.9">0.008</text>
<text transform="translate(2243.8,1707.1) scale(1,1.025)" font-size="71" text-anchor="middle" fill="#000" stroke="#000" stroke-width="0.9">0.01</text>
<text transform="translate(938.3,987.5) scale(1,1.04)" font-size="78" text-anchor="start" fill="#000" stroke="#000" stroke-width="0.9" letter-spacing="0.753">Amplified Signal</text>
<text transform="translate(213.0,1021.0) scale(1,1.025)" font-size="71" text-anchor="start" fill="#0000ff" stroke="#0000ff" stroke-width="0.9">x 10</text>
<text x="344.5" y="976.8" font-size="46" fill="#0000ff">-</text>
<text transform="translate(364.3,976.8) scale(0.8,1.03)" font-size="46" fill="#0000ff" stroke="#0000ff" stroke-width="0.6">4</text>
<text transform="translate(101.0,1594.9) rotate(-90) scale(1,1.025)" font-size="71" text-anchor="start" fill="#0000ff" stroke="#0000ff" stroke-width="0.9" letter-spacing="0.275">Velocity, V (m/s)</text>
<text transform="translate(2410.0,1338.4) rotate(-90) scale(1,1.025)" font-size="71" text-anchor="middle" fill="#008000" stroke="#008000" stroke-width="0.9">Amplification factor, A</text>
<text transform="translate(199.5,1938.9) scale(1,1.025)" font-size="71" text-anchor="end" fill="#000" stroke="#000" stroke-width="0.9">2</text>
<line x1="216.5" y1="2062.3" x2="236.7" y2="2062.3" stroke="#000" stroke-width="3.6"/>
<line x1="2243.9" y1="2062.3" x2="2220.1" y2="2062.3" stroke="#000" stroke-width="3.6"/>
<text transform="translate(199.5,2085.8) scale(1,1.025)" font-size="71" text-anchor="end" fill="#000" stroke="#000" stroke-width="0.9">0</text>
<line x1="216.5" y1="2209.1" x2="236.7" y2="2209.1" stroke="#000" stroke-width="3.6"/>
<line x1="2243.9" y1="2209.1" x2="2220.1" y2="2209.1" stroke="#000" stroke-width="3.6"/>
<text transform="translate(199.5,2232.6) scale(1,1.025)" font-size="71" text-anchor="end" fill="#000" stroke="#000" stroke-width="0.9">-2</text>
<line x1="216.5" y1="2356.2" x2="236.7" y2="2356.2" stroke="#000" stroke-width="3.6"/>
<line x1="2243.9" y1="2356.2" x2="2220.1" y2="2356.2" stroke="#000" stroke-width="3.6"/>
<text transform="translate(199.5,2379.7) scale(1,1.025)" font-size="71" text-anchor="end" fill="#000" stroke="#000" stroke-width="0.9">-4</text>
<text transform="translate(199.5,2526.5) scale(1,1.025)" font-size="71" text-anchor="end" fill="#000" stroke="#000" stroke-width="0.9">-6</text>
<polyline points="218.3,2258.3 245.7,2296.0" fill="none" stroke="#0000ff" stroke-width="5.6" stroke-linejoin="round" clip-path="url(#c2)" stroke-linecap="round"/>
<polyline points="245.7,2296.0 252.7,2254.4 258.6,2216.7 262.6,2192.9 266.5,2167.0 270.5,2145.2 273.5,2123.4 276.9,2103.6 282.4,2089.7 289.4,2083.7 297.3,2073.8 303.3,2065.9 308.2,2060.3" fill="none" stroke="#0000ff" stroke-width="9.2" stroke-linejoin="round" clip-path="url(#c2)" stroke-linecap="round"/>
<polyline points="308.2,2060.3 325.0,2059.5 355.0,2057.5 640.0,2059.5 648.0,2062.0 668.0,2062.0 676.0,2059.0 925.0,2059.0" fill="none" stroke="#0000ff" stroke-width="7.8" stroke-linejoin="round" clip-path="url(#c2)" stroke-linecap="round"/>
<polyline points="925.0,2059.0 947.4,2050.0 975.5,2022.5 1004.9,2091.4 1019.0,2080.5 1039.6,2065.0 1054.6,2068.2 1066.8,2073.6 1087.3,2064.0" fill="none" stroke="#0000ff" stroke-width="5.8" stroke-linejoin="round" clip-path="url(#c2)" stroke-linecap="round"/>
<polyline points="1087.3,2064.0 1103.7,2056.7 1129.6,2053.2 1147.3,2057.3 1161.0,2063.3 1204.6,2063.3 1223.7,2056.7 1272.8,2056.7 1286.4,2061.4 1330.0,2061.4 1341.0,2057.3 1401.0,2057.3 1414.6,2062.2 1460.0,2062.2 1475.0,2058.0 1560.0,2058.3 1593.3,2059.4 1612.0,2064.6 1630.8,2071.9 1641.3,2079.2" fill="none" stroke="#0000ff" stroke-width="7.8" stroke-linejoin="round" clip-path="url(#c2)" stroke-linecap="round"/>
<polyline points="1641.3,2079.2 1645.4,2112.5 1649.6,2152.1 1653.8,2187.5 1657.9,2225.0 1662.0,2260.4 1666.3,2297.9 1669.4,2333.3 1673.0,2383.5 1676.7,2312.5 1681.9,2270.8 1686.0,2229.2 1691.3,2177.1 1695.4,2141.7 1699.6,2100.0 1702.7,2070.8" fill="none" stroke="#0000ff" stroke-width="9.6" stroke-linejoin="round" clip-path="url(#c2)" stroke-linecap="round"/>
<polyline points="1702.7,2070.8 1710.0,2064.6 1743.3,2066.7 1760.0,2060.4 1814.0,2059.4 1860.0,2057.5 1890.0,2060.0 1900.0,2063.0 1910.0,2060.0 2242.0,2059.0" fill="none" stroke="#0000ff" stroke-width="7.8" stroke-linejoin="round" clip-path="url(#c2)" stroke-linecap="round"/>
<line x1="214.7" y1="1915.5" x2="2245.7" y2="1915.5" stroke="#000" stroke-width="3.6"/>
<line x1="214.7" y1="2503.0" x2="2245.7" y2="2503.0" stroke="#000" stroke-width="3.6"/>
<line x1="216.5" y1="1915.5" x2="216.5" y2="2503.0" stroke="#000" stroke-width="3.6"/>
<line x1="2243.9" y1="1915.5" x2="2243.9" y2="2503.0" stroke="#000" stroke-width="3.6"/>
<line x1="619.0" y1="2503.0" x2="619.0" y2="2479.2" stroke="#000" stroke-width="3.6"/>
<line x1="619.0" y1="1915.5" x2="619.0" y2="1939.3" stroke="#000" stroke-width="3.6"/>
<line x1="1025.2" y1="2503.0" x2="1025.2" y2="2479.2" stroke="#000" stroke-width="3.6"/>
<line x1="1025.2" y1="1915.5" x2="1025.2" y2="1939.3" stroke="#000" stroke-width="3.6"/>
<line x1="1431.4" y1="2503.0" x2="1431.4" y2="2479.2" stroke="#000" stroke-width="3.6"/>
<line x1="1431.4" y1="1915.5" x2="1431.4" y2="1939.3" stroke="#000" stroke-width="3.6"/>
<line x1="1837.6" y1="2503.0" x2="1837.6" y2="2479.2" stroke="#000" stroke-width="3.6"/>
<line x1="1837.6" y1="1915.5" x2="1837.6" y2="1939.3" stroke="#000" stroke-width="3.6"/>
<text transform="translate(216.5,2577.7) scale(1,1.025)" font-size="71" text-anchor="middle" fill="#000" stroke="#000" stroke-width="0.9">0</text>
<text transform="translate(620.0,2577.7) scale(1,1.025)" font-size="71" text-anchor="middle" fill="#000" stroke="#000" stroke-width="0.9">0.002</text>
<text transform="translate(1024.8,2577.7) scale(1,1.025)" font-size="71" text-anchor="middle" fill="#000" stroke="#000" stroke-width="0.9">0.004</text>
<text transform="translate(1431.4,2577.7) scale(1,1.025)" font-size="71" text-anchor="middle" fill="#000" stroke="#000" stroke-width="0.9">0.006</text>
<text transform="translate(1837.6,2577.7) scale(1,1.025)" font-size="71" text-anchor="middle" fill="#000" stroke="#000" stroke-width="0.9">0.008</text>
<text transform="translate(2243.8,2577.7) scale(1,1.025)" font-size="71" text-anchor="middle" fill="#000" stroke="#000" stroke-width="0.9">0.01</text>
<text transform="translate(763.2,1856.6) scale(1,1.04)" font-size="78" text-anchor="start" fill="#000" stroke="#000" stroke-width="0.9" letter-spacing="1.470">WPT Decomposed Signal</text>
<text transform="translate(213.0,1891.4) scale(1,1.025)" font-size="71" text-anchor="start" fill="#000" stroke="#000" stroke-width="0.9">x 10</text>
<text x="344.5" y="1847.2" font-size="46" fill="#000">-</text>
<text transform="translate(364.3,1847.2) scale(0.8,1.03)" font-size="46" fill="#000" stroke="#000" stroke-width="0.6">4</text>
<text transform="translate(101.0,2464.9) rotate(-90) scale(1,1.025)" font-size="71" text-anchor="start" fill="#000" stroke="#000" stroke-width="0.9" letter-spacing="0.275">Velocity, V (m/s)</text>
<text transform="translate(1069.6,2658.6) scale(1,1.025)" font-size="71" text-anchor="start" fill="#000" stroke="#000" stroke-width="0.9" letter-spacing="-0.700">Time, t (s)</text>
</svg>
</body></html>
